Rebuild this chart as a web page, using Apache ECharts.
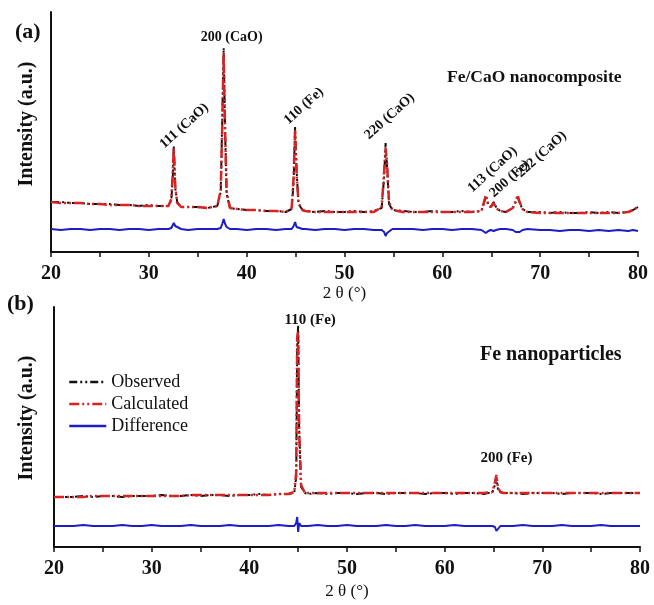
<!DOCTYPE html>
<html lang="en">
<head>
<meta charset="UTF-8" />
<title>XRD Rietveld</title>
<script src="https://cdn.jsdelivr.net/npm/echarts@6/dist/echarts.min.js"></script>
<style>
  html, body { margin: 0; padding: 0; background: #fff; }
  #main { width: 654px; height: 605px; }
</style>
</head>
<body>
<div id="main"></div>
<script>
// ---- panel (a): Fe/CaO nanocomposite ----
var thetaA = [
  20, 21, 22, 23, 24, 25, 26, 27, 28, 29, 30, 31, 32,
  32.3, 32.45, 32.55, 32.7, 32.9, 33.3,
  34, 35, 36, 37,
  37.35, 37.5, 37.65, 37.8, 37.95, 38.3,
  39, 40, 41, 42, 43, 44,
  44.6, 44.8, 44.95, 45.1, 45.3, 45.7,
  46, 47, 48, 49, 50, 51, 52, 53,
  53.8, 54.05, 54.2, 54.35, 54.55, 54.9,
  56, 57, 58, 59, 60, 61, 62, 63, 64,
  64.2, 64.45, 64.7, 64.95, 65.25, 65.5, 65.9,
  66.5, 67.2, 67.5, 67.7, 67.9, 68.2, 68.7,
  70, 71, 72, 73, 74, 75, 76, 77, 78, 79, 79.5, 80
];
var obsA = [
  50, 50, 49, 49, 48, 48, 48, 47, 47, 46, 47, 46, 46,
  52, 75, 106, 64, 50, 45,
  45, 45, 44, 46,
  60, 130, 204, 120, 58, 44,
  43, 42, 42, 41, 41, 40,
  43, 70, 125, 82, 48, 42,
  41, 40, 41, 40, 40, 41, 40, 41,
  44, 75, 109, 85, 48, 42,
  41, 40, 40, 41, 40, 40, 41, 40, 41,
  47, 56, 47, 45, 50, 45, 41,
  40, 44, 50, 55, 49, 43, 40,
  40, 39, 40, 39, 39, 40, 39, 40, 39, 40, 42, 45
];
var calcA = [
  50, 49, 49, 49, 48, 48, 47, 47, 47, 46, 46, 46, 46,
  53, 80, 104, 66, 49, 45,
  45, 45, 44, 46,
  62, 125, 199, 118, 60, 44,
  43, 42, 42, 41, 41, 40,
  44, 75, 123, 80, 49, 42,
  41, 40, 40, 40, 40, 40, 40, 40,
  45, 80, 104, 88, 50, 42,
  40, 40, 40, 40, 40, 40, 40, 40, 41,
  48, 57, 47, 45, 49, 44, 41,
  40, 44, 51, 57, 50, 43, 40,
  39, 39, 39, 39, 39, 39, 39, 39, 39, 40, 42, 45
];
var diffA = [
  23, 22, 23, 23, 22, 23, 23, 22, 23, 23, 22, 23, 23,
  24, 26, 29, 26, 24, 23,
  22, 23, 23, 23,
  24, 28, 33, 28, 25, 23,
  23, 22, 23, 23, 22, 23,
  23, 26, 30, 25, 23, 23,
  23, 22, 23, 23, 22, 23, 23, 22,
  22, 20, 16, 19, 21, 23,
  23, 23, 22, 23, 23, 22, 23, 23, 22,
  21, 19, 21, 22, 21, 22, 23,
  23, 22, 20, 18, 20, 22, 23,
  22, 22, 21, 22, 22, 21, 22, 21, 22, 21, 22, 21
];
// peak annotations (text, 2theta, intensity at the peak)
var peakTextA  = ['111 (CaO)', '200 (CaO)', '110 (Fe)', '220 (CaO)', '113 (CaO)', '200 (Fe)', '222 (CaO)'];
var peakThetaA = [32.55, 37.65, 44.95, 54.2, 64.45, 65.25, 67.7];
var peakValueA = [106, 204, 125, 109, 56, 50, 57];

// ---- panel (b): Fe nanoparticles ----
var thetaB = [
  20, 21, 22, 23, 24, 25, 26, 27, 28, 29, 30, 31, 32, 33, 34, 35, 36, 37, 38, 39, 40, 41, 42, 43, 44,
  44.6, 44.8, 44.9, 45.0, 45.1, 45.3, 45.7,
  46, 47, 48, 49, 50, 51, 52, 53, 54, 55, 56, 57, 58, 59, 60, 61, 62, 63, 64,
  64.9, 65.15, 65.3, 65.45, 65.7, 66,
  67, 68, 69, 70, 71, 72, 73, 74, 75, 76, 77, 78, 79, 80
];
var obsB = [
  50, 50, 50, 51, 50, 51, 51, 50, 51, 51, 51, 52, 51, 51, 52, 51, 52, 52, 51, 52, 52, 53, 52, 53, 53,
  54, 70, 200, 222, 120, 60, 54,
  53, 54, 53, 54, 54, 53, 54, 54, 53, 54, 54, 54, 53, 54, 54, 53, 54, 54, 53,
  55, 62, 70, 58, 55, 54,
  54, 53, 54, 54, 54, 53, 54, 54, 54, 53, 54, 54, 54, 54
];
var calcB = [
  50, 50, 50, 50, 51, 51, 51, 51, 51, 51, 51, 51, 51, 51, 52, 52, 52, 52, 52, 52, 52, 52, 52, 53, 53,
  55, 75, 210, 215, 115, 62, 54,
  54, 54, 54, 54, 54, 54, 54, 54, 54, 54, 54, 54, 54, 54, 54, 54, 54, 54, 54,
  55, 65, 72, 60, 55, 54,
  54, 54, 54, 54, 54, 54, 54, 54, 54, 54, 54, 54, 54, 54
];
var diffB = [
  21, 21, 21, 22, 21, 21, 21, 22, 21, 21, 22, 21, 21, 21, 22, 21, 21, 21, 22, 21, 21, 21, 21, 22, 21,
  21, 24, 30, 15, 24, 21, 21,
  21, 22, 21, 21, 22, 21, 21, 21, 22, 21, 21, 22, 21, 21, 21, 22, 21, 21, 21,
  21, 20, 16, 18, 21, 21,
  21, 22, 21, 21, 21, 22, 21, 21, 21, 22, 21, 21, 21, 21
];
var peakTextB  = ['110 (Fe)', '200 (Fe)'];
var peakThetaB = [45.0, 65.3];
var peakValueB = [222, 72];

var seriesNames = ['Observed', 'Calculated', 'Difference'];
var xTicks = [20, 30, 40, 50, 60, 70, 80];

// ---- styles / layout ----
var SERIF = '"Liberation Serif", "Times New Roman", "DejaVu Serif", serif';
var RED = '#d92323', BLACK = '#111111', BLUE = '#1c1cc8';
// label placement for each peak annotation: [rotate, screen dx, screen dy, fontSize]
var labelPosA = [[42, -12, 0, 14], [0, 8, -11, 14], [42, -9, -5, 14], [42, -19, -6, 14],
                 [42, -16, -6, 14], [42, -2, -7, 14], [42, 1, -20, 14]];
var labelPosB = [[0, 12, -5, 15], [0, 10, -17, 15]];

function pairs(xs, ys) {
  return xs.map(function (x, i) { return [x, ys[i]]; });
}

function peakMarks(texts, thetas, values, pos) {
  return {
    symbol: 'circle',
    symbolSize: 1,
    silent: true,
    animation: false,
    itemStyle: { color: 'rgba(0,0,0,0)' },
    data: texts.map(function (t, i) {
      var p = pos[i];
      // label offset is applied in the rotated frame, so turn the screen offset back
      var a = p[0] * Math.PI / 180, c = Math.cos(a), s = Math.sin(a);
      var dx = c * p[1] - s * p[2], dy = s * p[1] + c * p[2];
      return {
        coord: [thetas[i], values[i]],
        label: {
          show: true,
          formatter: t,
          position: 'inside',
          rotate: p[0],
          align: p[0] ? 'left' : 'center',
          verticalAlign: 'middle',
          offset: [dx, dy],
          fontFamily: SERIF,
          fontWeight: 'bold',
          fontSize: p[3],
          color: BLACK
        }
      };
    })
  };
}

function xAxisFor(gridIndex, gap) {
  return {
    gridIndex: gridIndex,
    type: 'value',
    min: 20, max: 80, interval: 5,
    name: '2 θ (°)',
    nameLocation: 'middle',
    nameGap: gap,
    nameTextStyle: { fontFamily: SERIF, fontSize: 17, color: BLACK },
    axisLine: { onZero: false, lineStyle: { color: BLACK, width: 2 } },
    axisTick: { length: 5, lineStyle: { color: BLACK, width: 1.5 } },
    splitLine: { show: false },
    axisLabel: {
      margin: 12,
      fontFamily: SERIF, fontWeight: 'bold', fontSize: 20, color: BLACK,
      formatter: function (v) { return xTicks.indexOf(v) >= 0 ? String(v) : ''; }
    }
  };
}

function yAxisFor(gridIndex) {
  return {
    gridIndex: gridIndex,
    type: 'value',
    min: 0, max: 240,
    axisLine: { show: true, lineStyle: { color: BLACK, width: 2 } },
    axisTick: { show: false },
    axisLabel: { show: false },
    splitLine: { show: false }
  };
}

function panelSeries(idx, theta, obs, calc, diff, marks) {
  return [
    {
      name: seriesNames[0], type: 'line', xAxisIndex: idx, yAxisIndex: idx,
      data: pairs(theta, obs), symbol: 'none', animation: false,
      lineStyle: { color: BLACK, width: 2, type: [8, 3, 2, 3, 2, 3] },
      itemStyle: { color: BLACK }
    },
    {
      name: seriesNames[1], type: 'line', xAxisIndex: idx, yAxisIndex: idx,
      data: pairs(theta, calc), symbol: 'none', animation: false,
      lineStyle: { color: RED, width: 2.5, type: [10, 3, 2, 3, 2, 3] },
      itemStyle: { color: RED },
      markPoint: marks
    },
    {
      name: seriesNames[2], type: 'line', xAxisIndex: idx, yAxisIndex: idx,
      data: pairs(theta, diff), symbol: 'none', animation: false,
      lineStyle: { color: BLUE, width: 2 },
      itemStyle: { color: BLUE }
    }
  ];
}

var chart = echarts.init(document.getElementById('main'));
var option = {
  backgroundColor: '#ffffff',
  animation: false,
  grid: [
    { left: 51, top: 12, width: 587, height: 240 },
    { left: 54, top: 307, width: 586, height: 240 }
  ],
  xAxis: [xAxisFor(0, 32), xAxisFor(1, 36)],
  yAxis: [yAxisFor(0), yAxisFor(1)],
  legend: {
    data: seriesNames,
    orient: 'vertical',
    left: 68, top: 373,
    padding: 0,
    itemWidth: 37, itemHeight: 10, itemGap: 4,
    itemStyle: { opacity: 0 },
    lineStyle: { width: 2.5 },
    textStyle: { fontFamily: SERIF, fontSize: 18, color: BLACK }
  },
  graphic: [
    { type: 'text', left: 15, top: 21, style: { text: '(a)', font: 'bold 22px ' + SERIF, fill: BLACK } },
    { type: 'text', left: 7, top: 293, style: { text: '(b)', font: 'bold 22px ' + SERIF, fill: BLACK } },
    { type: 'text', x: 27, y: 124, rotation: Math.PI / 2,
      style: { text: 'Intensity (a.u.)', font: 'bold 20px ' + SERIF, fill: BLACK, align: 'center', verticalAlign: 'middle' } },
    { type: 'text', x: 27, y: 418, rotation: Math.PI / 2,
      style: { text: 'Intensity (a.u.)', font: 'bold 20px ' + SERIF, fill: BLACK, align: 'center', verticalAlign: 'middle' } },
    { type: 'text', x: 447, y: 77,
      style: { text: 'Fe/CaO nanocomposite', font: 'bold 17.5px ' + SERIF, fill: BLACK, verticalAlign: 'middle' } },
    { type: 'text', x: 480, y: 355,
      style: { text: 'Fe nanoparticles', font: 'bold 20px ' + SERIF, fill: BLACK, verticalAlign: 'middle' } }
  ],
  series: panelSeries(0, thetaA, obsA, calcA, diffA, peakMarks(peakTextA, peakThetaA, peakValueA, labelPosA))
    .concat(panelSeries(1, thetaB, obsB, calcB, diffB, peakMarks(peakTextB, peakThetaB, peakValueB, labelPosB)))
};
chart.setOption(option);
</script>
</body>
</html>
